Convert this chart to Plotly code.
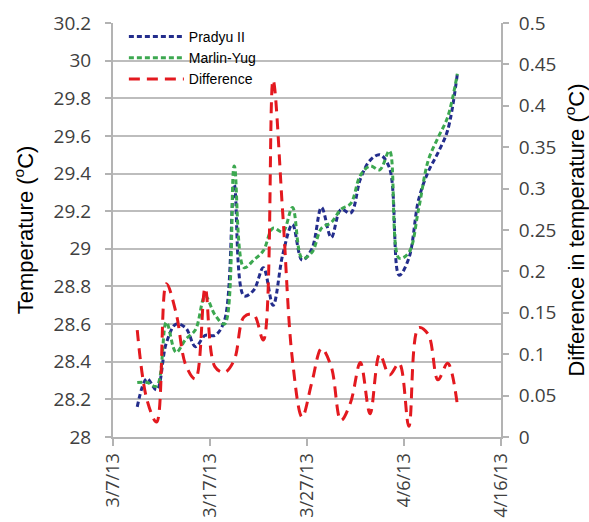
import plotly.graph_objects as go

dates = [
    "2013-03-09 12:00", "2013-03-10 12:00", "2013-03-11 12:00", "2013-03-12 12:00",
    "2013-03-13 12:00", "2013-03-14 12:00", "2013-03-15 12:00", "2013-03-16 12:00",
    "2013-03-17 12:00", "2013-03-18 12:00", "2013-03-19 12:00", "2013-03-20 12:00",
    "2013-03-21 12:00", "2013-03-22 12:00", "2013-03-23 12:00", "2013-03-24 12:00",
    "2013-03-25 12:00", "2013-03-26 12:00", "2013-03-27 12:00", "2013-03-28 12:00",
    "2013-03-29 12:00", "2013-03-30 12:00", "2013-03-31 12:00", "2013-04-01 12:00",
    "2013-04-02 12:00", "2013-04-03 12:00", "2013-04-04 12:00", "2013-04-05 12:00",
    "2013-04-06 12:00", "2013-04-07 12:00", "2013-04-08 12:00", "2013-04-09 12:00",
    "2013-04-10 12:00", "2013-04-11 12:00",
]

pradyu = [28.16, 28.31, 28.25, 28.50, 28.60, 28.58, 28.48, 28.54, 28.54, 28.62,
          29.34, 28.75, 28.78, 28.90, 28.70, 28.97, 29.13, 28.94, 29.00, 29.22,
          29.06, 29.21, 29.19, 29.37, 29.47, 29.50, 29.43, 28.86, 28.95, 29.26,
          29.41, 29.51, 29.63, 29.93]

marlin = [28.29, 28.29, 28.27, 28.61, 28.45, 28.52, 28.57, 28.75, 28.65, 28.60,
          29.44, 28.90, 28.94, 28.99, 29.11, 29.09, 29.22, 28.95, 28.98, 29.11,
          29.14, 29.21, 29.24, 29.39, 29.44, 29.42, 29.52, 28.95, 28.98, 29.21,
          29.47, 29.59, 29.70, 29.93]

difference = [0.129, 0.045, 0.018, 0.185, 0.150, 0.087, 0.070, 0.180, 0.085, 0.078,
              0.093, 0.145, 0.148, 0.117, 0.431, 0.270, 0.093, 0.024, 0.066, 0.107,
              0.085, 0.020, 0.042, 0.090, 0.028, 0.100, 0.075, 0.089, 0.013, 0.132,
              0.124, 0.069, 0.089, 0.039]

fig = go.Figure()
fig.add_trace(go.Scatter(
    x=dates, y=pradyu, name="Pradyu II", mode="lines",
    line=dict(color="#232d8c", width=3, dash="5px,3px", shape="spline", smoothing=1.0),
))
fig.add_trace(go.Scatter(
    x=dates, y=marlin, name="Marlin-Yug", mode="lines",
    line=dict(color="#3ca850", width=3, dash="5px,3px", shape="spline", smoothing=1.0),
))
fig.add_trace(go.Scatter(
    x=dates, y=difference, name="Difference", mode="lines", yaxis="y2",
    line=dict(color="#e3191f", width=3, dash="11px,7px", shape="spline", smoothing=1.0),
))

tickfont = dict(family="Open Sans", size=19, color="#404040")
xtickfont = dict(family="Open Sans", size=18, color="#404040")
titlefont = dict(family="Liberation Sans", size=22, color="#000000")

fig.update_layout(
    template="none",
    width=589, height=522,
    margin=dict(l=113, r=88, t=23, b=85, autoexpand=False),
    paper_bgcolor="white", plot_bgcolor="white",
    showlegend=True,
    legend=dict(
        x=0.028, y=1.005, xanchor="left", yanchor="top",
        bgcolor="rgba(255,255,255,0)", borderwidth=0,
        font=dict(family="Liberation Sans", size=14, color="#000000"),
        tracegroupgap=0, itemwidth=55,
    ),
    xaxis=dict(
        type="date", automargin=False,
        range=["2013-03-07", "2013-04-16"],
        tick0="2013-03-07", dtick=864000000,
        tickformat="%-m/%-d/%y", tickangle=-90,
        tickfont=xtickfont,
        showgrid=False, zeroline=False,
        showline=True, linecolor="#b3b3b3", linewidth=2,
        ticks="outside", ticklen=7, tickwidth=2, tickcolor="#b3b3b3",
    ),
    yaxis=dict(
        automargin=False,
        range=[28, 30.2], dtick=0.2, tick0=28,
        tickfont=tickfont,
        title=dict(text="Temperature (<sup>o</sup>C)", font=titlefont, standoff=14),
        showgrid=True, gridcolor="#bdbdbd", gridwidth=2,
        zeroline=False,
        showline=True, linecolor="#b3b3b3", linewidth=2,
        ticks="outside", ticklen=6, tickwidth=2, tickcolor="#b3b3b3",
        ticklabelstandoff=10,
    ),
    yaxis2=dict(
        automargin=False,
        range=[0, 0.5], dtick=0.05, tick0=0,
        overlaying="y", side="right",
        tickfont=tickfont,
        title=dict(text="Difference in temperature (<sup>o</sup>C)", font=titlefont, standoff=19),
        showgrid=False, zeroline=False,
        showline=True, linecolor="#b3b3b3", linewidth=2,
        ticks="outside", ticklen=6, tickwidth=2, tickcolor="#b3b3b3",
        ticklabelstandoff=6,
    ),
    shapes=[dict(
        type="rect", xref="paper", yref="paper",
        x0=0.006, x1=0.457, y0=0.885, y1=0.985,
        fillcolor="white", line=dict(width=0), layer="between",
    )],
)

fig.write_html("out.html")
